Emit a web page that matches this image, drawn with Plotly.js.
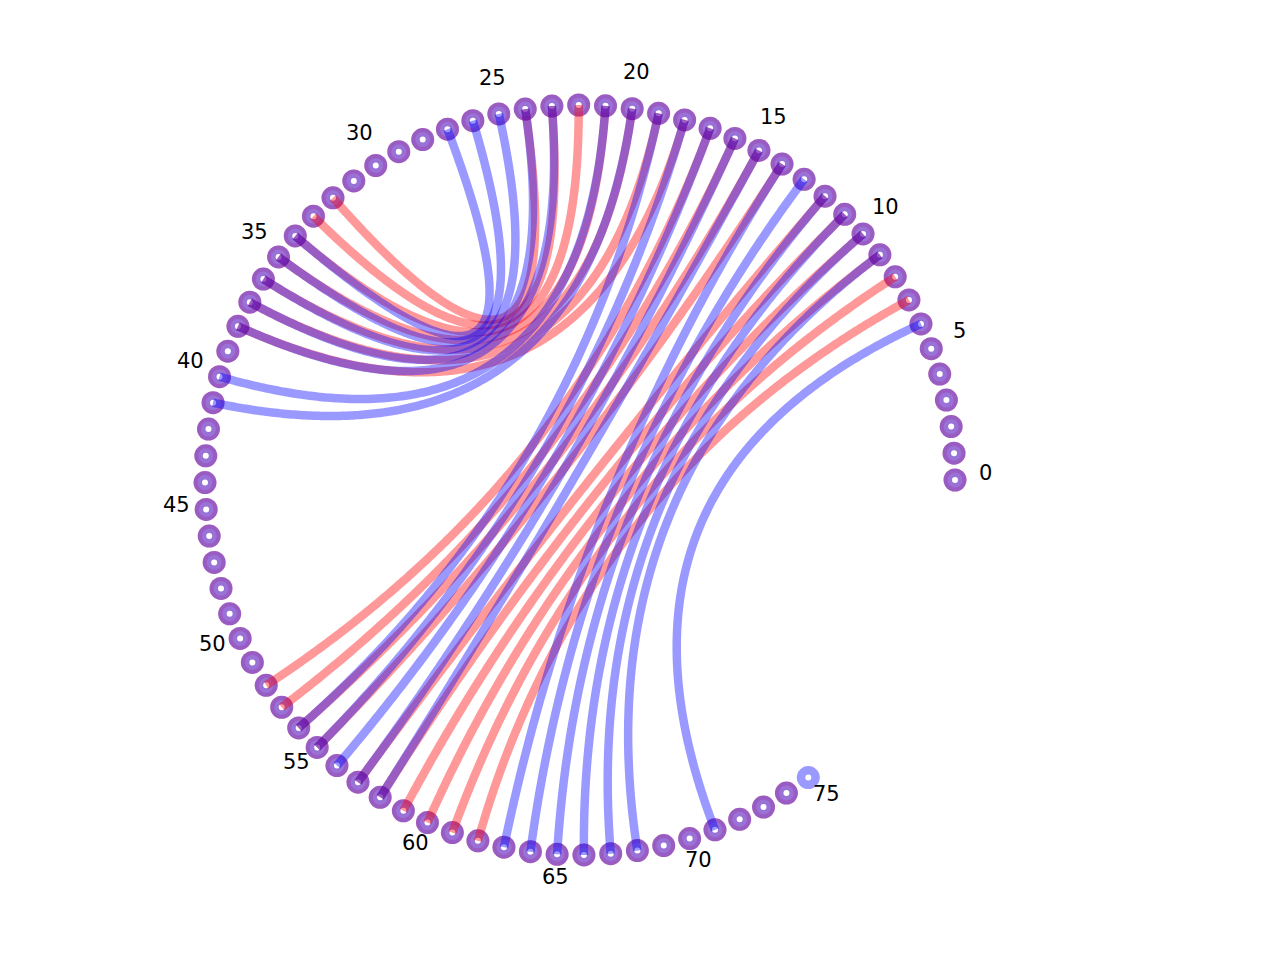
<!DOCTYPE html>
<html>
<head>
<meta charset="utf-8">
<script src="https://cdn.plot.ly/plotly-3.0.1.min.js"></script>
<style>html,body{margin:0;padding:0;background:#fff;}#chart{width:1280px;height:960px;}</style>
</head>
<body>
<div id="chart"></div>
<script>
// ---- data ----
const blueLength = 76;   // nodes 0..75
const redLength = 75;    // nodes 0..74
const blueOpen  = [6, 9,10,11,12,13,14,15,16,17,18,19,20,21,23,24,25,26,27];
const blueClose = [71,68,67,66,65,64,63,58,57,56,55,54,41,40,38,37,36,35,34];
const redOpen   = [7, 8, 9,10,11,12,14,15,16,17,18,19,20,21,22,23,24];
const redClose  = [62,61,60,59,58,57,55,54,53,52,38,37,36,35,34,33,32];
const tickLabels = [0,5,10,15,20,25,30,35,40,45,50,55,60,65,70,75];

// ---- layout helpers ----
const stepDeg = 4.1;
function ang(i){ return i*stepDeg*Math.PI/180; }
function pos(i, r){ r = r||1; return [r*Math.cos(ang(i)), r*Math.sin(ang(i))]; }
function range(n){ return Array.from({length:n}, (_,k)=>k); }

const BLUE = 'rgba(0,0,255,0.4)';
const RED = 'rgba(255,0,0,0.4)';

function nodeTrace(n, color, size){
  const idx = range(n);
  return {x: idx.map(i=>pos(i)[0]), y: idx.map(i=>pos(i)[1]), mode:'markers', type:'scatter',
    marker:{size:size, color:color, line:{width:0}}, hoverinfo:'skip', showlegend:false, cliponaxis:false};
}
function arcTrace(i, j, color){
  const a = pos(i), b = pos(j), xs = [], ys = [];
  const M = 240;
  for (let k=0;k<=M;k++){
    const t = k/M;
    xs.push((1-t)*(1-t)*a[0] + t*t*b[0]);
    ys.push((1-t)*(1-t)*a[1] + t*t*b[1]);
  }
  return {x:xs, y:ys, mode:'lines', type:'scatter', line:{color:color, width:8.5, simplify:false},
    hoverinfo:'skip', showlegend:false};
}

const traces = [];
traces.push(nodeTrace(redLength, RED, 23));
traces.push(nodeTrace(redLength, 'rgba(255,255,255,0.35)', 15));
traces.push(nodeTrace(blueLength, BLUE, 23));
traces.push(nodeTrace(blueLength, '#ffffff', 6));
redOpen.forEach((i,k)=>traces.push(arcTrace(i, redClose[k], RED)));
blueOpen.forEach((i,k)=>traces.push(arcTrace(i, blueClose[k], BLUE)));

const annotations = tickLabels.map(i=>{
  const p = pos(i, 1.08);
  return {x:p[0], y:p[1], text:String(i), showarrow:false, xanchor:'center', yanchor:'middle',
    yshift:7, font:{family:'DejaVu Sans', size:21, color:'#000'}};
});

const layout = {
  width:1280, height:960, margin:{l:0,r:0,t:0,b:0},
  paper_bgcolor:'#ffffff', plot_bgcolor:'#ffffff',
  xaxis:{range:[-580/375, 700/375], visible:false, fixedrange:true},
  yaxis:{range:[-1.28, 1.28], visible:false, fixedrange:true},
  annotations:annotations, showlegend:false
};
Plotly.newPlot('chart', traces, layout, {displayModeBar:false, staticPlot:true});
</script>
</body>
</html>
